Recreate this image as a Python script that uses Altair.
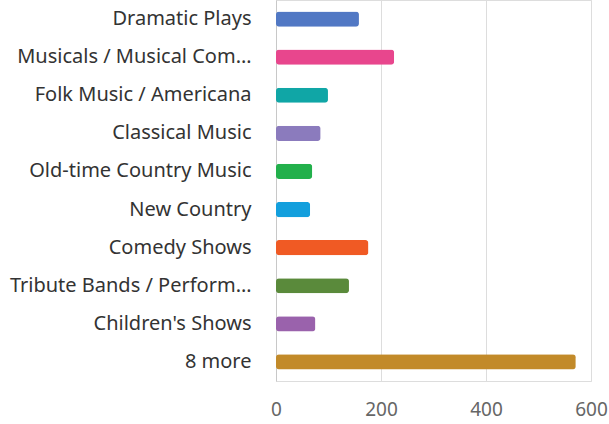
import altair as alt
import pandas as pd

categories = ["Dramatic Plays", "Musicals / Musical Com…", "Folk Music / Americana",
              "Classical Music", "Old-time Country Music", "New Country", "Comedy Shows",
              "Tribute Bands / Perform…", "Children's Shows", "8 more"]
values = [158, 225, 99, 85, 69, 65, 176, 139, 75, 571]
colors = ["#5178c4", "#e8468d", "#10a6a6", "#8b7bbd", "#22b04b", "#139fdd",
          "#f05a24", "#5a8a3b", "#9a62ac", "#c28a29"]

df = pd.DataFrame({"cat": categories, "val": values, "color": colors})

chart = alt.Chart(df).mark_bar(cornerRadius=3).encode(
    y=alt.Y("cat:N", sort=categories, title=None,
            scale=alt.Scale(paddingInner=0.6, paddingOuter=0.3),
            axis=alt.Axis(labelFontSize=20, labelColor="#333333", labelPadding=25,
                          ticks=False, domain=True, domainColor="#c8c8c8",
                          labelFont="Noto Sans", labelLimit=300)),
    x=alt.X("val:Q", title=None, scale=alt.Scale(domain=[0, 600], nice=False),
            axis=alt.Axis(values=[0, 200, 400, 600], labelFontSize=19, labelColor="#666666",
                          labelFont="Noto Sans", labelPadding=19, ticks=False, domain=False,
                          gridColor="#dddddd", labelFlush=False)),
    color=alt.Color("color:N", scale=None, legend=None),
).properties(
    width=315, height=381,
    autosize="none",
    padding={"left": 276, "top": 0, "right": 18, "bottom": 43},
).configure_view(stroke=None).configure(background="white")

chart.save("out.html", embed_options={"renderer": "svg", "actions": False})
